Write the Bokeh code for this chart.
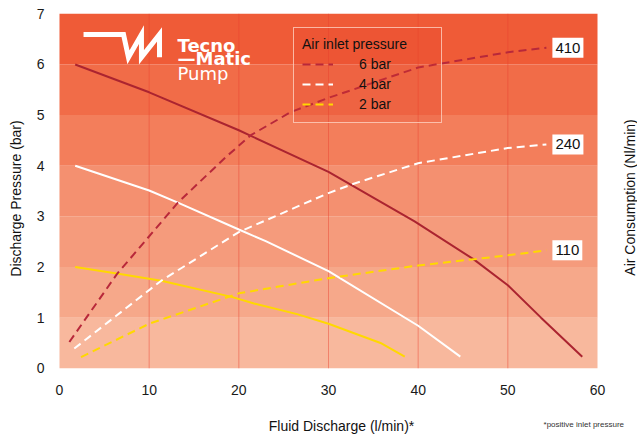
import math
from bokeh.plotting import figure
from bokeh.models import Range1d, Label, Legend, LegendItem, FixedTicker
from bokeh.embed import file_html
from bokeh.resources import INLINE

# ---------------- data ----------------
# Discharge pressure (bar) vs fluid discharge (l/min), per air inlet pressure
flow_6bar = [1.75, 10, 20, 30, 39.6, 46.2, 50, 53.7, 58.3]
pres_6bar = [6.0, 5.45, 4.7, 3.88, 2.9, 2.15, 1.64, 1.0, 0.23]
flow_4bar = [1.75, 10, 13.2, 20, 23, 30, 40, 44.7]
pres_4bar = [4.0, 3.51, 3.27, 2.74, 2.51, 1.92, 0.84, 0.23]
flow_2bar = [1.75, 6.4, 11.35, 19.2, 21.7, 26.5, 30, 35.8, 38.5]
pres_2bar = [2.0, 1.87, 1.73, 1.41, 1.28, 1.07, 0.88, 0.5, 0.23]

# Air consumption curves (drawn in the same vertical scale)
air_flow_6bar = [1.1, 6.4, 13.2, 18.6, 21.4, 25.8, 30, 40, 50, 54.3]
air_6bar = [0.52, 1.86, 3.27, 4.18, 4.61, 5.06, 5.34, 5.94, 6.24, 6.33]
air_flow_4bar = [1.65, 11.35, 20, 30, 32.9, 40, 50, 54.3]
air_4bar = [0.39, 1.73, 2.69, 3.46, 3.65, 4.05, 4.35, 4.42]
air_flow_2bar = [2.4, 10, 20, 30, 40, 50, 54.3]
air_2bar = [0.22, 0.88, 1.48, 1.78, 2.03, 2.23, 2.33]
air_end_labels = ["410", "240", "110"]

series_names = ["6 bar", "4 bar", "2 bar"]
solid_colors = ["#ab2430", "#ffffff", "#ffd800"]
dashed_colors = ["#b8283a", "#ffffff", "#ffd800"]

band_bottom = [0, 1, 2, 3, 4, 5, 6]
band_colors = ["#f8b89d", "#f6a88a", "#f59b7c", "#f49070", "#f37e5b", "#f16c48", "#ef5b37"]

x_ticks = [0, 10, 20, 30, 40, 50, 60]
y_ticks = [0, 1, 2, 3, 4, 5, 6, 7]

FONT = "Liberation Sans"

# ---------------- figure ----------------
# frame covers whole canvas; axes are fixed at x=0 / y=0
PX_X = 538 / 60.0        # pixels per l/min
PX_Y = 354.5 / 7.0       # pixels per bar
x0_px, y0_px = 59, 367.8
W, H = 637, 438
p = figure(width=W, height=H, output_backend="svg", toolbar_location=None,
           x_range=Range1d(-x0_px / PX_X, (W - x0_px) / PX_X),
           y_range=Range1d(-(H - y0_px) / PX_Y, y0_px / PX_Y),
           min_border=0, min_border_left=0, min_border_right=0,
           min_border_top=0, min_border_bottom=0)
p.outline_line_color = None
p.background_fill_color = "white"
p.border_fill_color = "white"
p.grid.visible = False

# background bands
p.quad(left=x_ticks[0], right=x_ticks[-1], bottom=band_bottom,
       top=[b + 1 for b in band_bottom], fill_color=band_colors, line_color=None)

# vertical grid lines inside the banded area
grid_x = [t for t in x_ticks if x_ticks[0] < t < x_ticks[-1]]
p.segment(x0=grid_x, y0=y_ticks[0], x1=grid_x, y1=y_ticks[-1],
          line_color="#e8402f", line_alpha=0.45, line_width=1)

# axes
p.xaxis.ticker = FixedTicker(ticks=x_ticks)
p.yaxis.ticker = FixedTicker(ticks=y_ticks)
p.xaxis.fixed_location = 0
p.yaxis.fixed_location = 0
for ax in (p.xaxis[0], p.yaxis[0]):
    ax.axis_line_color = None
    ax.major_tick_line_color = None
    ax.minor_tick_line_color = None
    ax.major_label_text_font = FONT
    ax.major_label_text_font_size = "14px"
    ax.major_label_text_color = "#1a1a1a"
p.xaxis.major_label_standoff = 11
p.yaxis.major_label_standoff = 9

# pressure curves (solid)
for fx, fy, c in [(flow_6bar, pres_6bar, solid_colors[0]),
                  (flow_4bar, pres_4bar, solid_colors[1]),
                  (flow_2bar, pres_2bar, solid_colors[2])]:
    p.line(fx, fy, line_color=c, line_width=2)

# air consumption curves (dashed)
air_sets = [(air_flow_6bar, air_6bar, dashed_colors[0]),
            (air_flow_4bar, air_4bar, dashed_colors[1]),
            (air_flow_2bar, air_2bar, dashed_colors[2])]
air_renderers = []
for ax_, ay_, c in air_sets:
    air_renderers.append(p.line(ax_, ay_, line_color=c, line_width=2, line_dash="8 5"))

# end-of-curve value boxes
for (ax_, ay_, c), txt in zip(air_sets, air_end_labels):
    p.add_layout(Label(x=ax_[-1], y=ay_[-1], text=txt, text_align="left", text_baseline="middle",
                       x_offset=6, text_font=FONT, text_font_size="15px", text_color="#111111",
                       background_fill_color="white", padding=(3, 5)))

# legend
legend = Legend(items=[LegendItem(label=n, renderers=[r]) for n, r in zip(series_names, air_renderers)],
                location=(293, 315), title="Air inlet pressure",
                title_text_font=FONT, title_text_font_size="14px", title_text_font_style="normal",
                title_text_color="#111111", title_standoff=2,
                label_text_font=FONT, label_text_font_size="14px", label_text_color="#111111",
                glyph_width=31, glyph_height=20, label_height=20, label_standoff=26, label_width=74,
                spacing=0, padding=8, margin=0,
                border_line_color="#ffd9c9", border_line_alpha=0.75, border_line_width=1.5,
                background_fill_color="#e23f27", background_fill_alpha=0.18)
p.add_layout(legend)

# logo
logo_x = [2.68, 7.14, 7.69, 9.14, 9.14, 11.15, 11.15]
logo_y = [6.59, 6.59, 6.14, 6.59, 6.14, 6.59, 6.14]
p.line(logo_x, logo_y, line_color="white", line_width=5, line_join="miter")
p.add_layout(Label(x=13.16, y=6.374, text="Tecno", text_font="DejaVu Sans", text_font_style="bold",
                   text_font_size="18px", text_color="white", text_baseline="alphabetic"))
p.add_layout(Label(x=13.16, y=6.111, text="\u2014Matic", text_font="DejaVu Sans", text_font_style="bold",
                   text_font_size="18px", text_color="white", text_baseline="alphabetic"))
p.add_layout(Label(x=13.16, y=5.815, text="Pump", text_font="DejaVu Sans",
                   text_font_size="18px", text_color="white", text_baseline="alphabetic"))

# axis titles and note
p.add_layout(Label(x=31.45, y=-1.149, text="Fluid Discharge (l/min)*", text_align="center",
                   text_baseline="middle", text_font=FONT, text_font_size="14px", text_color="#111111"))
p.add_layout(Label(x=53.98, y=-1.11, text="*positive inlet pressure", text_align="left",
                   text_baseline="middle", text_font=FONT, text_font_size="8px", text_color="#333333"))
p.add_layout(Label(x=-4.85, y=3.353, text="Discharge Pressure (bar)", angle=math.pi / 2,
                   text_align="center", text_baseline="middle", text_font=FONT,
                   text_font_size="14px", text_color="#111111"))
p.add_layout(Label(x=63.68, y=3.373, text="Air Consumption (Nl/min)", angle=math.pi / 2,
                   text_align="center", text_baseline="middle", text_font=FONT,
                   text_font_size="14px", text_color="#111111"))

open("out.html", "w").write(file_html(p, INLINE))
